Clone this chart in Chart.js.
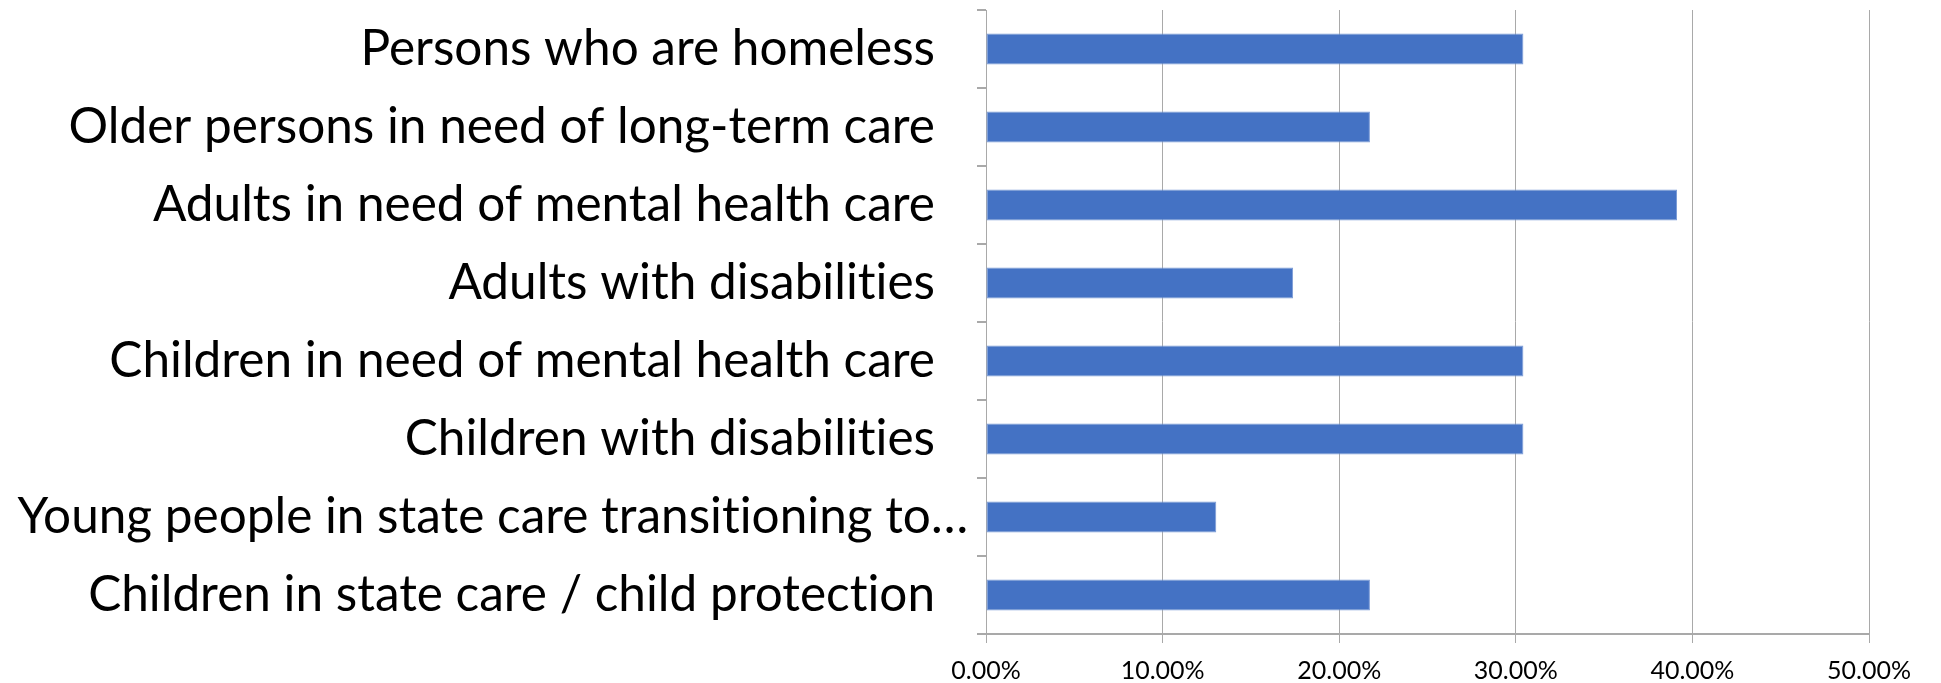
<!DOCTYPE html>
<html>
<head>
<meta charset="utf-8">
<script src="https://cdn.jsdelivr.net/npm/chart.js@4.4.0/dist/chart.umd.min.js"></script>
<style>
  html, body { margin: 0; padding: 0; background: #fff; }
  #wrap { width: 1941px; height: 683px; }
</style>
</head>
<body>
<div id="wrap"><canvas id="groupsChart" width="1941" height="683"></canvas></div>
<script>
// groups listed top to bottom as shown
const groups = [
    'Persons who are homeless',
    'Older persons in need of long-term care',
    'Adults in need of mental health care',
    'Adults with disabilities',
    'Children in need of mental health care',
    'Children with disabilities',
    'Young people in state care transitioning to…',
    'Children in state care / child protection'
];
const shares = [30.43, 21.74, 39.13, 17.39, 30.43, 30.43, 13.04, 21.74]; // percent
const xTicks = [0, 10, 20, 30, 40, 50];

const gridGrey = '#a9a9a9';

// the cut-off label spills past the others towards the axis
const overflowLabel = 6;
const overflowShift = 33;

const nudgeLabel = {
    id: 'nudgeLabel',
    beforeDraw(chart) {
        const items = chart.scales.y.getLabelItems();
        const item = items[overflowLabel];
        if (item && !item._nudged) {
            item.options.translation[0] += overflowShift;
            item._nudged = true;
        }
    }
};

// Lato joins "ti" into a ligature; a zero-width non-joiner keeps the letters apart
const noLigature = s => s.replace(/ti/g, 't\u200Ci');

new Chart(document.getElementById('groupsChart').getContext('2d'), {
    type: 'bar',
    data: {
        labels: groups,
        datasets: [{
            data: shares,
            backgroundColor: '#4472c4',
            borderColor: '#7b9bd6',
            borderWidth: 1,
            borderSkipped: false,
            barPercentage: 0.4,
            categoryPercentage: 1
        }]
    },
    plugins: [nudgeLabel],
    options: {
        indexAxis: 'y',
        responsive: false,
        animation: false,
        layout: { padding: { top: 10, right: 72, bottom: 0, left: 0 } },
        plugins: {
            legend: { display: false },
            tooltip: { enabled: false }
        },
        scales: {
            x: {
                min: 0,
                max: 50,
                afterBuildTicks: scale => {
                    scale.ticks = xTicks.map(v => ({ value: v }));
                },
                afterFit: scale => {
                    scale.height = 49;
                    scale.paddingLeft = 0;
                    scale.paddingRight = 0;
                },
                grid: {
                    color: gridGrey,
                    lineWidth: 1,
                    tickLength: 9
                },
                border: { color: gridGrey, width: 2 },
                ticks: {
                    padding: 13,
                    color: '#000',
                    maxRotation: 0,
                    font: { family: 'Lato', size: 25 },
                    callback: v => v.toFixed(2) + '%'
                }
            },
            y: {
                afterFit: scale => {
                    scale.width = 986;
                    scale.paddingTop = 0;
                    scale.paddingBottom = 0;
                },
                grid: {
                    drawOnChartArea: false,
                    color: gridGrey,
                    lineWidth: 2,
                    tickLength: 9,
                    offset: true
                },
                border: { color: gridGrey, width: 1 },
                ticks: {
                    padding: 42,
                    color: '#000',
                    autoSkip: false,
                    font: { family: 'Lato', size: 49.5 },
                    callback: (v, i) => noLigature(groups[i])
                }
            }
        }
    }
});
</script>
</body>
</html>
